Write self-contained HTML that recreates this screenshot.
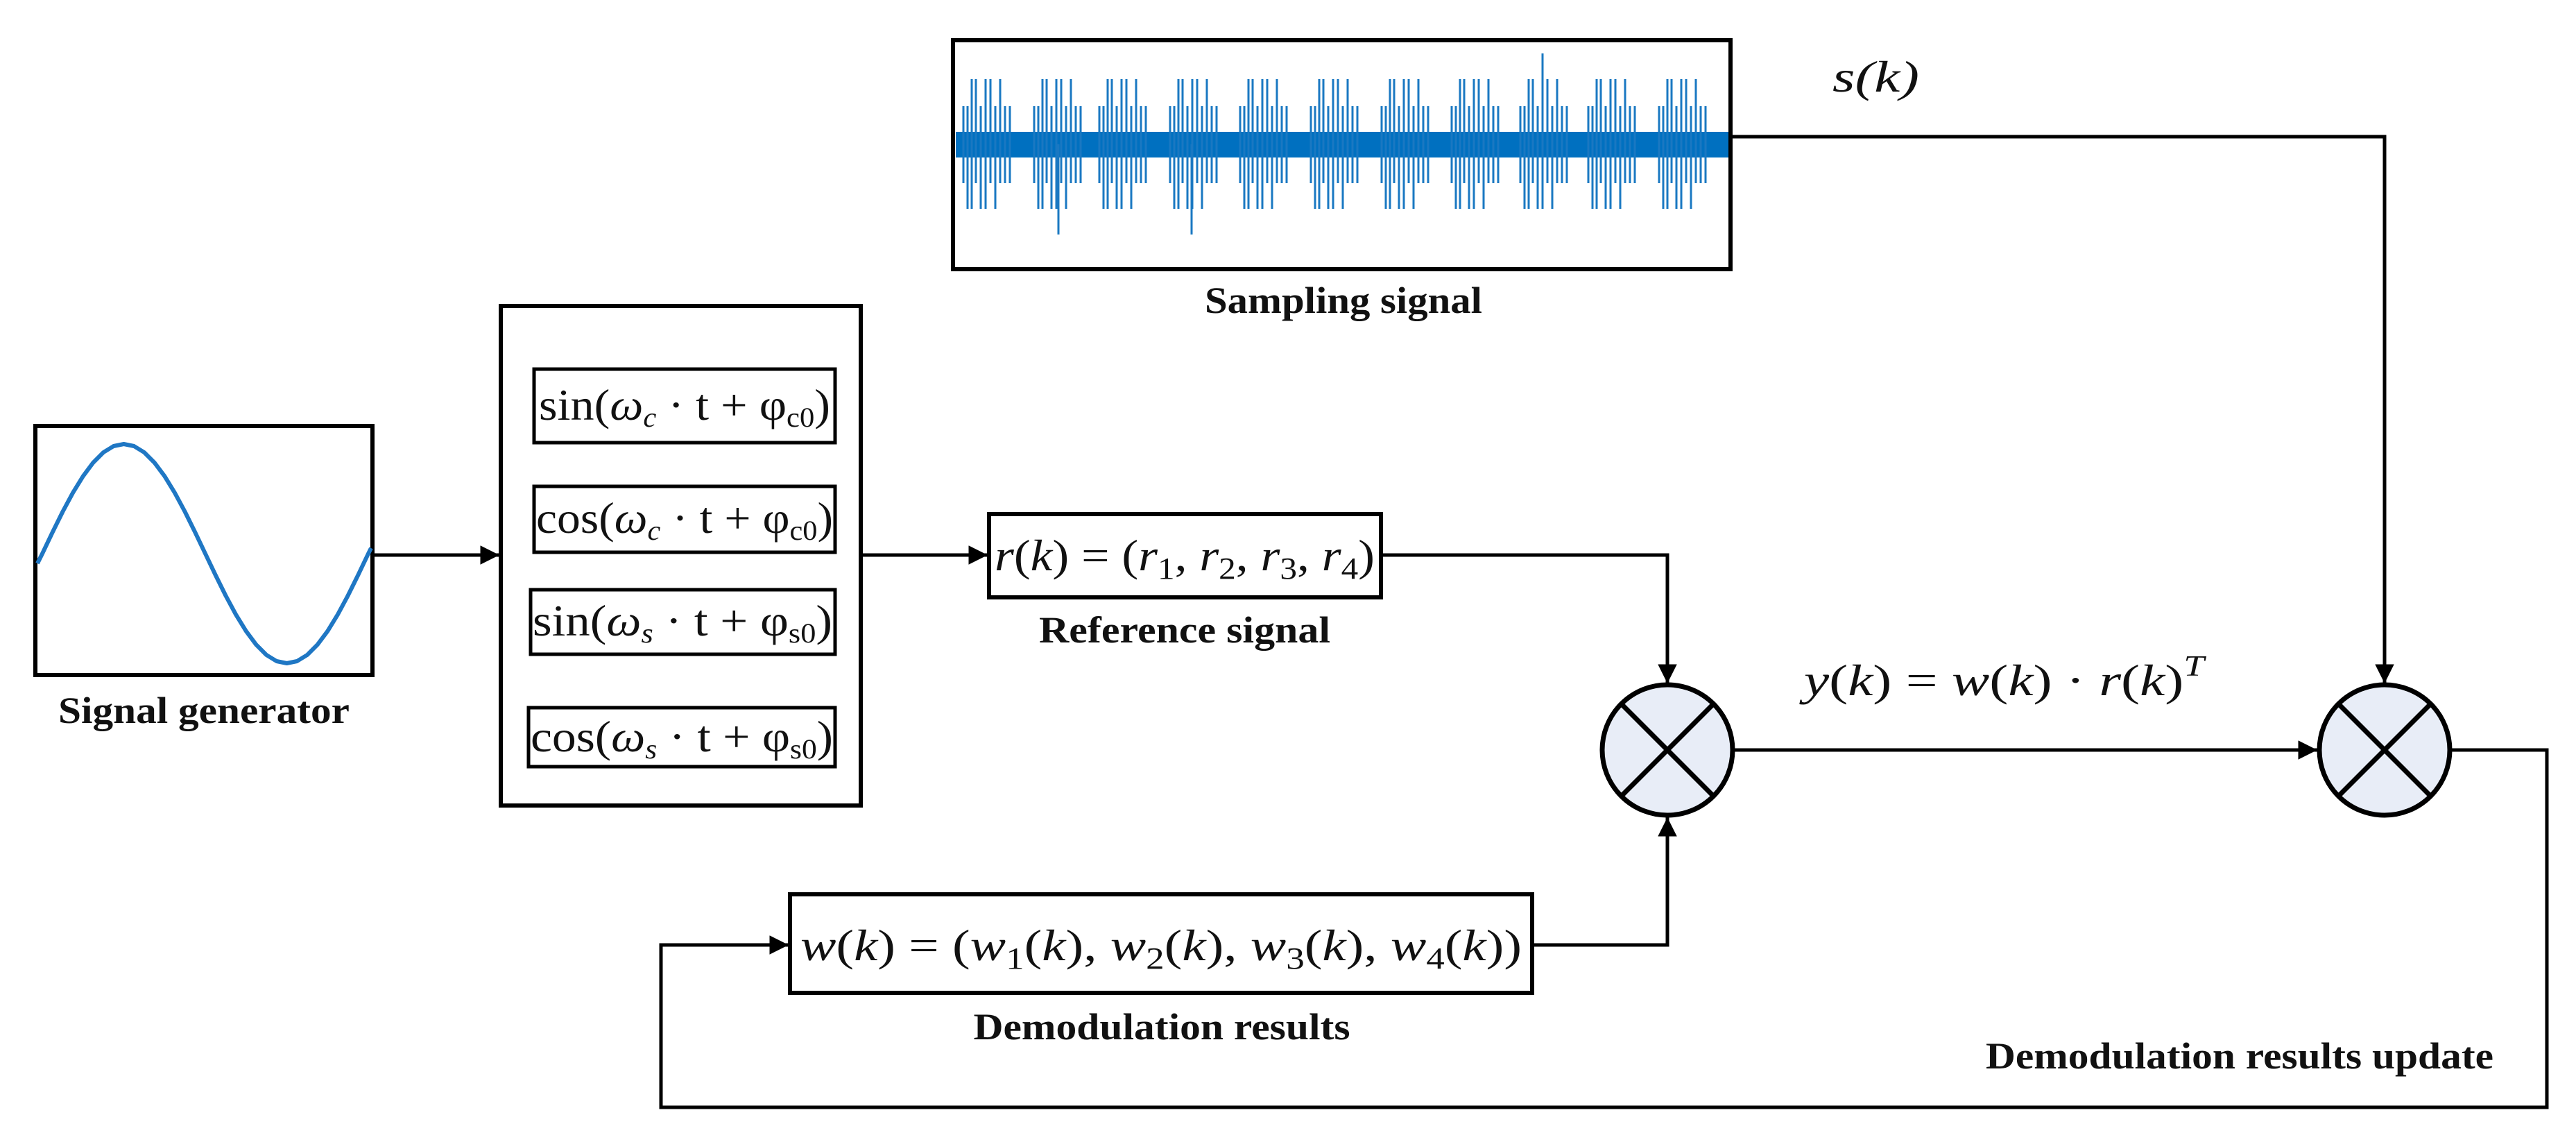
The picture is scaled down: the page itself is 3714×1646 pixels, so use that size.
<!DOCTYPE html>
<html><head><meta charset="utf-8"><style>
html,body{margin:0;padding:0;background:#fff;}
svg{display:block;}
.m{font-family:"Liberation Serif",serif;font-size:64px;fill:#111;}
.i{font-style:italic;}
.b{font-family:"Liberation Serif",serif;font-weight:bold;font-size:54px;fill:#111;}
</style></head><body>
<svg width="3714" height="1646" viewBox="0 0 3714 1646" xmlns="http://www.w3.org/2000/svg">
<defs>
<g id="burst" stroke="#1a78c2" stroke-width="3">
<line x1="-36" y1="-55" x2="-36" y2="56"/>
<line x1="-30" y1="-55" x2="-30" y2="93"/>
<line x1="-24" y1="-94" x2="-24" y2="93"/>
<line x1="-18" y1="-94" x2="-18" y2="56"/>
<line x1="-11" y1="-55" x2="-11" y2="93"/>
<line x1="-4" y1="-94" x2="-4" y2="93"/>
<line x1="3" y1="-94" x2="3" y2="56"/>
<line x1="10" y1="-55" x2="10" y2="93"/>
<line x1="17" y1="-94" x2="17" y2="56"/>
<line x1="24" y1="-55" x2="24" y2="56"/>
<line x1="31" y1="-55" x2="31" y2="56"/>
</g>
<marker id="ar" viewBox="0 0 10 10" refX="10" refY="5" markerWidth="8" markerHeight="5.5" markerUnits="strokeWidth" orient="auto">
<path d="M0,0 L10,5 L0,10 z" fill="#000"/></marker>
</defs>

<!-- Signal generator -->
<rect x="51" y="614" width="486" height="359" fill="#fff" stroke="#000" stroke-width="6"/>
<polyline fill="none" stroke="#1f77c4" stroke-width="6" stroke-linejoin="round" points="54,812 61,798 75.7,767.2 90.4,737.5 105.1,710.2 119.8,686.3 134.4,666.7 149.1,652 163.8,643 178.5,640 193.2,643 207.9,652 222.6,666.7 237.3,686.3 251.9,710.2 266.6,737.5 281.3,767.2 296,798 310.7,828.8 325.4,858.5 340.1,885.8 354.8,909.7 369.4,929.3 384.1,944 398.8,953 413.5,956 428.2,953 442.9,944 457.6,929.3 472.3,909.7 486.9,885.8 501.6,858.5 516.3,828.8 531,798 535,790"/>
<text class="b" x="294" y="1042" text-anchor="middle" textLength="420" lengthAdjust="spacingAndGlyphs">Signal generator</text>

<!-- big box -->
<rect x="722" y="441" width="519" height="720" fill="#fff" stroke="#000" stroke-width="6"/>
<rect x="770" y="532" width="434" height="106" fill="none" stroke="#000" stroke-width="5"/>
<rect x="770" y="701" width="434" height="95" fill="none" stroke="#000" stroke-width="5"/>
<rect x="765" y="850" width="439" height="93" fill="none" stroke="#000" stroke-width="5"/>
<rect x="762" y="1020" width="442" height="85" fill="none" stroke="#000" stroke-width="5"/>
<text class="m" x="987" y="605" text-anchor="middle" textLength="420" lengthAdjust="spacingAndGlyphs">sin(<tspan class="i">ω</tspan><tspan class="i" font-size="40" dy="10">c</tspan><tspan dy="-10"> · t + φ</tspan><tspan font-size="40" dy="10">c0</tspan><tspan dy="-10">)</tspan></text>
<text class="m" x="987" y="768" text-anchor="middle" textLength="428" lengthAdjust="spacingAndGlyphs">cos(<tspan class="i">ω</tspan><tspan class="i" font-size="40" dy="10">c</tspan><tspan dy="-10"> · t + φ</tspan><tspan font-size="40" dy="10">c0</tspan><tspan dy="-10">)</tspan></text>
<text class="m" x="984" y="916" text-anchor="middle" textLength="432" lengthAdjust="spacingAndGlyphs">sin(<tspan class="i">ω</tspan><tspan class="i" font-size="40" dy="10">s</tspan><tspan dy="-10"> · t + φ</tspan><tspan font-size="40" dy="10">s0</tspan><tspan dy="-10">)</tspan></text>
<text class="m" x="983" y="1083" text-anchor="middle" textLength="436" lengthAdjust="spacingAndGlyphs">cos(<tspan class="i">ω</tspan><tspan class="i" font-size="40" dy="10">s</tspan><tspan dy="-10"> · t + φ</tspan><tspan font-size="40" dy="10">s0</tspan><tspan dy="-10">)</tspan></text>

<!-- sampling signal -->
<rect x="1374" y="58" width="1121" height="330" fill="#fff" stroke="#000" stroke-width="6"/>
<rect x="1378" y="190" width="1114" height="37" fill="#0070c0"/>
<use href="#burst" x="1425" y="208"/>
<use href="#burst" x="1527" y="208"/>
<use href="#burst" x="1621" y="208"/>
<use href="#burst" x="1723" y="208"/>
<use href="#burst" x="1824" y="208"/>
<use href="#burst" x="1926" y="208"/>
<use href="#burst" x="2028" y="208"/>
<use href="#burst" x="2129" y="208"/>
<use href="#burst" x="2228" y="208"/>
<use href="#burst" x="2326" y="208"/>
<use href="#burst" x="2428" y="208"/>
<g stroke="#1a78c2" stroke-width="3">
<line x1="1526" y1="208" x2="1526" y2="338"/>
<line x1="1718" y1="208" x2="1718" y2="338"/>
<line x1="2224" y1="77" x2="2224" y2="208"/>
</g>
<text class="b" x="1937" y="451" text-anchor="middle" textLength="400" lengthAdjust="spacingAndGlyphs">Sampling signal</text>
<text class="m i" x="2642" y="132" font-size="72" textLength="125" lengthAdjust="spacingAndGlyphs">s(k)</text>

<!-- reference signal -->
<rect x="1426" y="741" width="565" height="120" fill="#fff" stroke="#000" stroke-width="6"/>
<text class="m" x="1708" y="822" text-anchor="middle" font-size="68" textLength="548" lengthAdjust="spacingAndGlyphs"><tspan class="i">r</tspan>(<tspan class="i">k</tspan>) = (<tspan class="i">r</tspan><tspan font-size="44" dy="12">1</tspan><tspan dy="-12">, </tspan><tspan class="i">r</tspan><tspan font-size="44" dy="12">2</tspan><tspan dy="-12">, </tspan><tspan class="i">r</tspan><tspan font-size="44" dy="12">3</tspan><tspan dy="-12">, </tspan><tspan class="i">r</tspan><tspan font-size="44" dy="12">4</tspan><tspan dy="-12">)</tspan></text>
<text class="b" x="1708" y="926" text-anchor="middle" textLength="420" lengthAdjust="spacingAndGlyphs">Reference signal</text>

<!-- w box -->
<rect x="1139" y="1289" width="1070" height="142" fill="#fff" stroke="#000" stroke-width="6"/>
<text class="m" x="1674" y="1384" text-anchor="middle" font-size="70" textLength="1040" lengthAdjust="spacingAndGlyphs"><tspan class="i">w</tspan>(<tspan class="i">k</tspan>) = (<tspan class="i">w</tspan><tspan font-size="44" dy="12">1</tspan><tspan dy="-12">(</tspan><tspan class="i">k</tspan>), <tspan class="i">w</tspan><tspan font-size="44" dy="12">2</tspan><tspan dy="-12">(</tspan><tspan class="i">k</tspan>), <tspan class="i">w</tspan><tspan font-size="44" dy="12">3</tspan><tspan dy="-12">(</tspan><tspan class="i">k</tspan>), <tspan class="i">w</tspan><tspan font-size="44" dy="12">4</tspan><tspan dy="-12">(</tspan><tspan class="i">k</tspan>))</text>
<text class="b" x="1675" y="1498" text-anchor="middle" textLength="543" lengthAdjust="spacingAndGlyphs">Demodulation results</text>

<text class="m" x="2601" y="1002" font-size="68" textLength="577" lengthAdjust="spacingAndGlyphs"><tspan class="i">y</tspan>(<tspan class="i">k</tspan>) = <tspan class="i">w</tspan>(<tspan class="i">k</tspan>) · <tspan class="i">r</tspan>(<tspan class="i">k</tspan>)<tspan class="i" font-size="42" dy="-28">T</tspan></text>
<text class="b" x="3229" y="1540" text-anchor="middle" textLength="732" lengthAdjust="spacingAndGlyphs">Demodulation results update</text>

<!-- connectors -->
<g fill="none" stroke="#000" stroke-width="5">
<polyline points="538,800 720,800" marker-end="url(#ar)"/>
<polyline points="1241,800 1424,800" marker-end="url(#ar)"/>
<polyline points="1991,800 2404,800 2404,985" marker-end="url(#ar)"/>
<polyline points="2495,197 3438,197 3438,985" marker-end="url(#ar)"/>
<polyline points="2499,1081 3341,1081" marker-end="url(#ar)"/>
<polyline points="3533,1081 3672,1081 3672,1596 953,1596 953,1362 1137,1362" marker-end="url(#ar)"/>
<polyline points="2209,1362 2404,1362 2404,1178" marker-end="url(#ar)"/>
</g>

<!-- multipliers -->
<g stroke="#000" stroke-width="7">
<circle cx="2404" cy="1081" r="94" fill="#e8edf7"/>
<line x1="2338" y1="1015" x2="2470" y2="1147"/>
<line x1="2470" y1="1015" x2="2338" y2="1147"/>
<circle cx="3438" cy="1081" r="94" fill="#e8edf7"/>
<line x1="3372" y1="1015" x2="3504" y2="1147"/>
<line x1="3504" y1="1015" x2="3372" y2="1147"/>
</g>
</svg>
</body></html>
